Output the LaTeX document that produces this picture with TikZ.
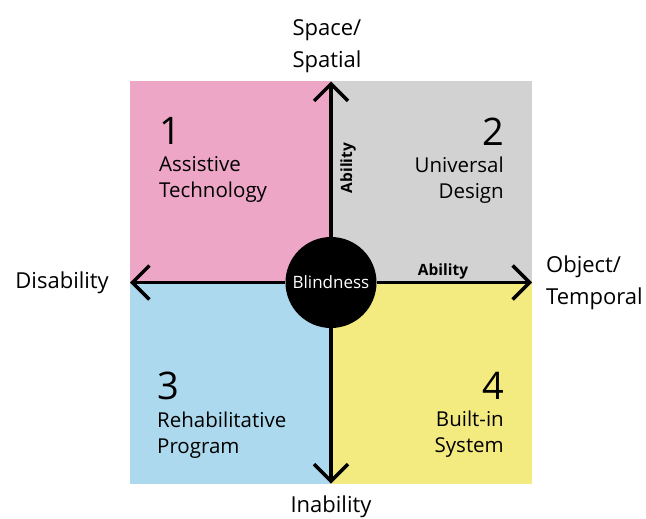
\documentclass[tikz,border=0pt]{standalone}
\usepackage{fontspec}
\setmainfont{Open Sans}
\usepackage{tikz}
\usetikzlibrary{arrows.meta,positioning}
\usepackage{xcolor}
\definecolor{bdpink}{RGB}{237,166,197}
\definecolor{bdgrey}{RGB}{211,210,210}
\definecolor{bdblue}{RGB}{173,217,238}
\definecolor{bdyellow}{RGB}{244,235,128}
\tikzstyle{axisarrow} = [line width=3.5pt,-{Straight Barb[length=17pt,width=34pt]},color=black]
\tikzstyle{quadbox} = [rectangle, minimum width=201pt, minimum height=201pt, inner sep=0pt, outer sep=0pt]
\tikzstyle{quadnum} = [inner sep=0pt, font=\fontsize{38}{40}\selectfont]
\tikzstyle{quadtext} = [inner sep=0pt, font=\fontsize{20.5}{26}\selectfont]
\tikzstyle{axislabel} = [inner sep=0pt, align=left, font=\fontsize{22}{32}\selectfont]
\tikzstyle{abilitylabel} = [inner sep=0pt, font=\fontsize{15.5}{18}\selectfont\bfseries]

\begin{document}
\begin{tikzpicture}[x=1pt,y=-1pt]
\useasboundingbox (0,0) rectangle (646,519);
% Quadrants
\node[quadbox, fill=bdpink, anchor=south east] (q1) at (331,282.5) {};
\node[quadbox, fill=bdgrey, anchor=south west] (q2) at (331,282.5) {};
\node[quadbox, fill=bdblue, anchor=north east] (q3) at (331,282.5) {};
\node[quadbox, fill=bdyellow, anchor=north west] (q4) at (331,282.5) {};

% Axes
\node[circle, fill=black, minimum size=91pt, inner sep=0pt, text=white, font=\fontsize{17}{20}\selectfont] (blind) at (331,282.5) {Blindness};
\draw[axisarrow] (blind) -- (q1.north east);
\draw[axisarrow] (blind) -- (q1.south west);
\draw[axisarrow] (blind) -- (q2.south east);
\draw[axisarrow] (blind) -- (q3.south east);

% Quadrant labels
\node[quadnum, below right=36pt and 29pt of q1.north west] (n1) {1};
\node[quadtext, align=left, below=11.5pt of n1.south west, anchor=north west] (l1) {Assistive\\Technology};
\node[quadnum, below left=36pt and 28pt of q2.north east] (n2) {2};
\node[quadtext, align=right, below=11.5pt of n2.south east, anchor=north east] (l2) {Universal\\Design};
\node[quadnum, below right=89.5pt and 27pt of q3.north west] (n3) {3};
\node[quadtext, align=left, below=11.5pt of n3.south west, anchor=north west] (l3) {Rehabilitative\\Program};
\node[quadnum, below left=89.5pt and 28pt of q4.north east] (n4) {4};
\node[quadtext, align=right, below=11.5pt of n4.south east, anchor=north east] (l4) {Built-in\\System};

% Axis labels
\node[axislabel, above=9pt of q1.north east, xshift=-4pt] (space) {Space/\\Spatial};
\node[axislabel, left=21pt of q1.south west] (dis) {Disability};
\node[axislabel, right=14pt of q2.south east] (obj) {Object/\\Temporal};
\node[axislabel, below=12pt of q3.south east] (inab) {Inability};
\node[abilitylabel, anchor=base] (abh) at (443,275) {Ability};
\node[abilitylabel, rotate=90, anchor=base] (abv) at (352,168) {Ability};
\end{tikzpicture}
\end{document}
